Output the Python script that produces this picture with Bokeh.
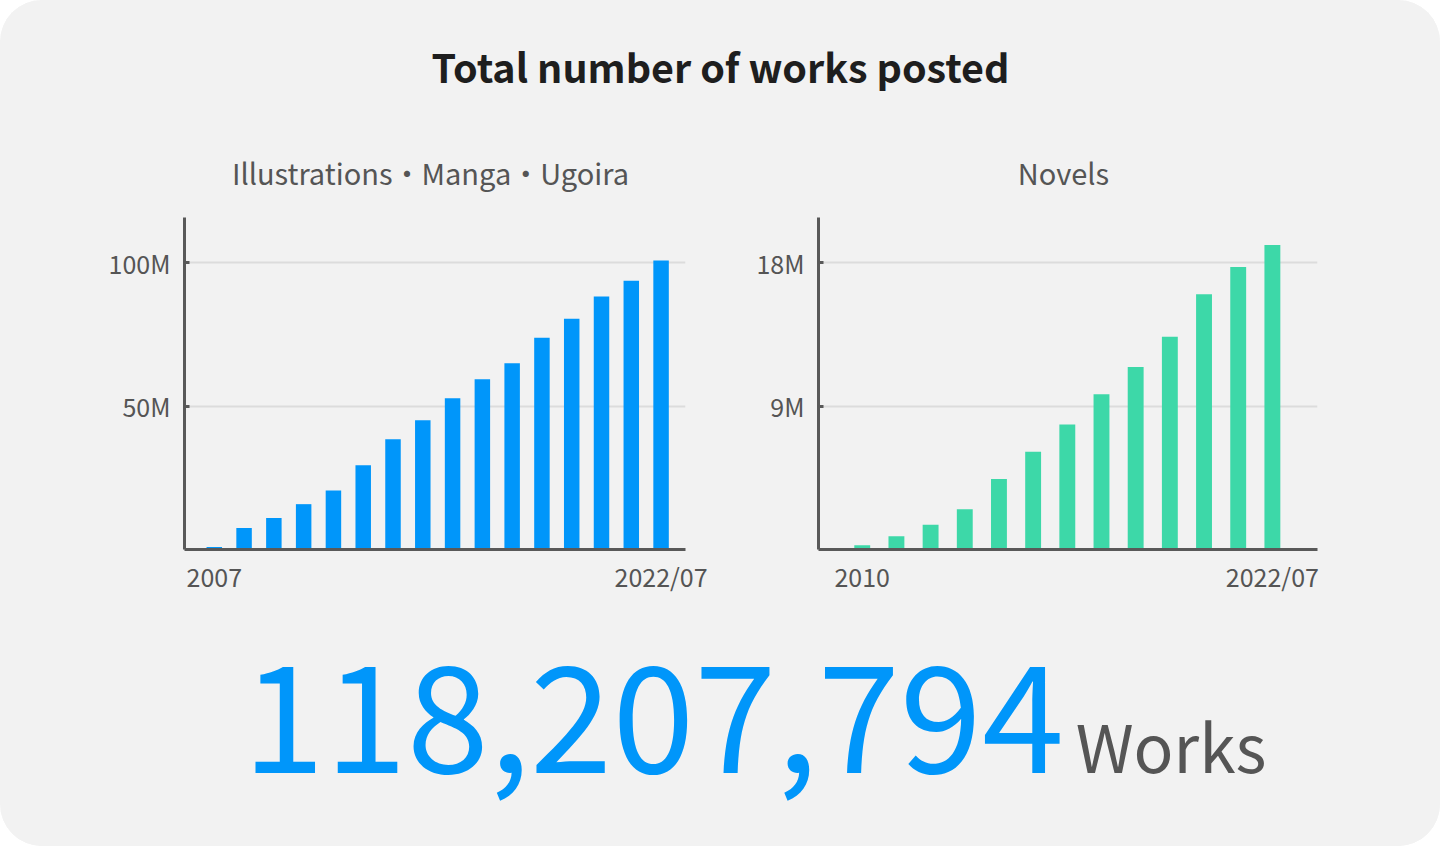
from bokeh.plotting import figure
from bokeh.models import Range1d, FixedTicker, Label
from bokeh.layouts import column, row
from bokeh.embed import file_html
from bokeh.resources import INLINE

# ---- data ----
illust_years = ["2007", "2008", "2009", "2010", "2011", "2012", "2013", "2014",
                "2015", "2016", "2017", "2018", "2019", "2020", "2021", "2022/07"]
illust_millions = [0.9, 7.5, 11.0, 15.8, 20.6, 29.4, 38.4, 45.0,
                   52.7, 59.3, 64.9, 73.8, 80.4, 88.2, 93.7, 100.7]
illust_ticks = [50, 100]
illust_tick_labels = ["50M", "100M"]

novel_years = ["2010", "2011", "2012", "2013", "2014", "2015", "2016",
               "2017", "2018", "2019", "2020", "2021", "2022/07"]
novel_millions = [0.27, 0.83, 1.56, 2.52, 4.42, 6.13, 7.84,
                  9.74, 11.45, 13.35, 16.02, 17.73, 19.11]
novel_ticks = [9, 18]
novel_tick_labels = ["9M", "18M"]

main_title = "Total number of works posted"
illust_title = "Illustrations・Manga・Ugoira"
novel_title = "Novels"
total_works = "118,207,794"
total_unit = "Works"

FONT = "Noto Sans CJK JP"
BG = "#f2f2f2"
AXIS = "#595959"
TXT = "#555555"
BLUE = "#0096fa"
GREEN = "#3dd8a8"
W = 1440


def blank(height):
    p = figure(width=W, height=height, output_backend="svg", toolbar_location=None,
               title_location=None,
               x_range=Range1d(0, W), y_range=Range1d(height, 0),
               x_axis_type=None, y_axis_type=None, min_border=0)
    p.grid.visible = False
    p.outline_line_color = None
    p.background_fill_color = BG
    p.border_fill_color = BG
    return p


def chart(cats, vals, ymax, ticks, tick_labels, color, x0, x1, width, bl, br, bw):
    p = figure(width=width, height=400, output_backend="svg", toolbar_location=None,
               title_location=None,
               x_range=Range1d(x0, x1), y_range=Range1d(0, ymax),
               min_border_left=bl, min_border_right=br,
               min_border_top=19, min_border_bottom=49)
    p.background_fill_color = BG
    p.border_fill_color = BG
    p.outline_line_color = None
    xs = list(range(len(cats)))
    p.vbar(x=xs, top=vals, bottom=0, width=bw, fill_color=color, line_color=None)

    p.xaxis.ticker = FixedTicker(ticks=[0, len(cats) - 1])
    p.xaxis.major_label_overrides = {0: cats[0], len(cats) - 1: cats[-1]}
    p.xaxis.major_tick_in = 0
    p.xaxis.major_tick_out = 0
    p.xaxis.minor_tick_line_color = None
    p.xaxis.major_label_standoff = 8

    p.yaxis.ticker = FixedTicker(ticks=ticks)
    p.yaxis.major_label_overrides = {t: l for t, l in zip(ticks, tick_labels)}
    p.yaxis.major_tick_in = 5
    p.yaxis.major_tick_out = 0
    p.yaxis.major_tick_line_width = 3
    p.yaxis.major_tick_line_color = AXIS
    p.yaxis.minor_tick_line_color = None
    p.yaxis.major_label_standoff = 14

    for ax in (p.xaxis, p.yaxis):
        ax.axis_line_color = AXIS
        ax.axis_line_width = 3
        ax.major_label_text_font = FONT
        ax.major_label_text_font_size = "25px"
        ax.major_label_text_color = TXT

    p.xgrid.visible = False
    p.ygrid.grid_line_color = "#dcdcdc"
    p.ygrid.grid_line_width = 2
    return p


header = blank(198)
header.add_layout(Label(x=720, y=65, text=main_title, text_font=FONT, text_font_size="39.5px",
                        text_font_style="bold", text_color="#1e1e1e", text_align="center",
                        text_baseline="alphabetic"))
header.add_layout(Label(x=430, y=171, text=illust_title, text_font=FONT, text_font_size="29px",
                        text_color=TXT, text_align="center", text_baseline="alphabetic"))
header.add_layout(Label(x=1063, y=171, text=novel_title, text_font=FONT, text_font_size="29px",
                        text_color=TXT, text_align="center", text_baseline="alphabetic"))

left = chart(illust_years, illust_millions, 115.7, illust_ticks, illust_tick_labels, BLUE,
             -1.0, 15.82, 720, 184, 35, 0.52)
right = chart(novel_years, novel_millions, 20.83, novel_ticks, novel_tick_labels, GREEN,
              -1.28, 13.32, 720, 98, 123, 0.465)

footer = blank(248)
footer.add_layout(Label(x=242, y=120, text=total_works, text_font=FONT, text_font_size="148px",
                        text_color=BLUE, text_align="left", text_baseline="alphabetic"))
footer.add_layout(Label(x=1266, y=145, text=total_unit, text_font=FONT, text_font_size="66px",
                        text_color=TXT, text_align="right", text_baseline="alphabetic"))

layout = column(header, row(left, right), footer,
                styles={"border-radius": "42px", "overflow": "hidden", "background-color": BG})

open("out.html", "w").write(file_html(layout, INLINE))
